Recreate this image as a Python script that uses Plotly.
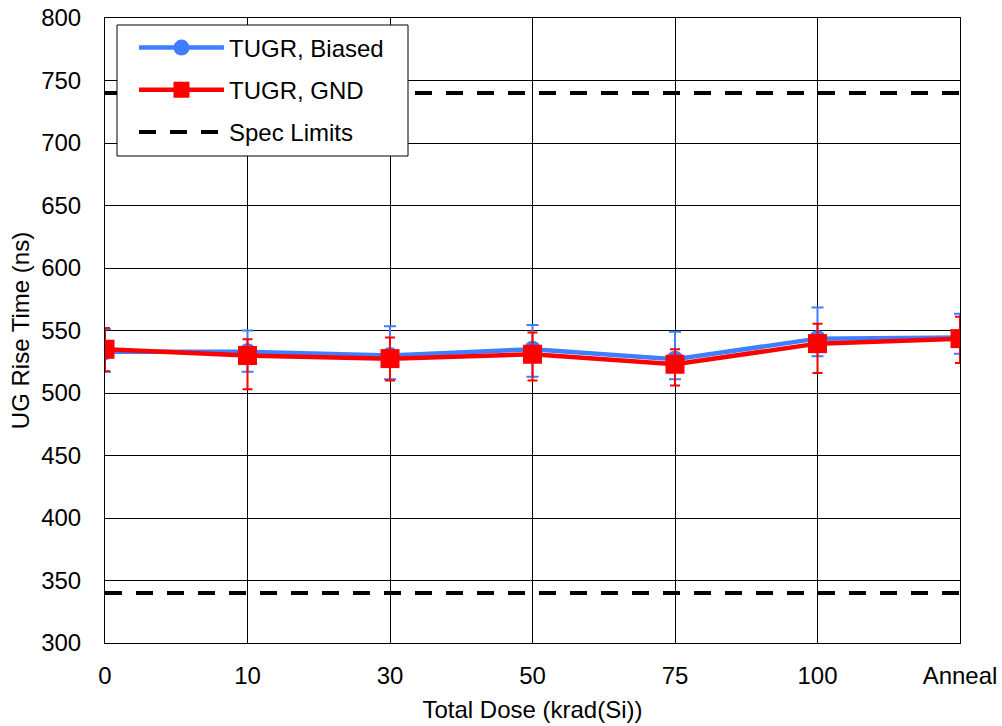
import plotly.graph_objects as go

categories = ["0", "10", "30", "50", "75", "100", "Anneal"]
x_pos = list(range(len(categories)))

biased_mean = [533, 533, 530, 535, 527, 543.5, 544.5]
biased_plus = [18, 17, 23.5, 19.5, 22, 25, 19]
biased_minus = [16, 16, 19, 22, 16, 14, 13]

gnd_mean = [535, 530, 527.5, 531, 523, 539.5, 543.5]
gnd_plus = [17, 13, 17, 17.5, 12, 16, 17.5]
gnd_minus = [17.5, 27, 17.5, 21, 17, 23.5, 19.5]

spec_upper = 740
spec_lower = 340

FONT = "Liberation Sans, Arial, sans-serif"
BLUE = "#3F7FFF"
RED = "#FF0000"

fig = go.Figure()

fig.add_trace(go.Scatter(
    x=x_pos, y=biased_mean, name="TUGR, Biased", mode="lines+markers",
    line=dict(color=BLUE, width=4.5),
    marker=dict(symbol="circle", size=17, color=BLUE),
    error_y=dict(type="data", array=biased_plus, arrayminus=biased_minus,
                 color=BLUE, thickness=2, width=6),
    legendgroup="a",
))
fig.add_trace(go.Scatter(
    x=x_pos, y=gnd_mean, name="TUGR, GND", mode="lines+markers",
    line=dict(color=RED, width=4.5),
    marker=dict(symbol="square", size=19, color=RED),
    error_y=dict(type="data", array=gnd_plus, arrayminus=gnd_minus,
                 color=RED, thickness=2, width=5),
    legendgroup="b",
))
fig.add_trace(go.Scatter(
    x=[x_pos[0], x_pos[-1]], y=[spec_upper, spec_upper], name="Spec Limits",
    mode="lines", line=dict(color="black", width=4, dash="17px,14px"),
    legendgroup="c",
))
fig.add_trace(go.Scatter(
    x=[x_pos[0], x_pos[-1]], y=[spec_lower, spec_lower], name="Spec Limits",
    mode="lines", line=dict(color="black", width=4, dash="17px,14px"),
    legendgroup="c", showlegend=False,
))

# legend frame drawn as a shape so it can be sized like the original
fig.add_shape(
    type="rect", xref="paper", yref="paper",
    x0=0.01404, x1=0.3544, y0=0.7792, y1=0.9888,
    line=dict(color="black", width=1), fillcolor="white", layer="above",
)

fig.update_layout(
    width=1002, height=726,
    margin=dict(l=105, r=42, t=18, b=83),
    paper_bgcolor="white", plot_bgcolor="white",
    font=dict(family=FONT, size=24, color="black"),
    legend=dict(
        x=0.0339, y=0.988, xanchor="left", yanchor="top",
        bgcolor="rgba(0,0,0,0)", borderwidth=0,
        font=dict(size=24), tracegroupgap=8, itemwidth=85,
        traceorder="grouped",
    ),
    showlegend=True,
)

fig.update_xaxes(
    range=[0, len(categories) - 1],
    tickmode="array", tickvals=x_pos, ticktext=categories,
    showgrid=True, gridcolor="black", gridwidth=1,
    showline=True, linecolor="black", linewidth=1, mirror=True,
    zeroline=False, ticks="", tickfont=dict(size=24),
    ticklabelstandoff=11, automargin=False,
    title=dict(text="Total Dose (krad(Si))", font=dict(size=24), standoff=13),
)
fig.update_yaxes(
    range=[300, 800], dtick=50,
    showgrid=True, gridcolor="black", gridwidth=1,
    showline=True, linecolor="black", linewidth=1, mirror=True,
    zeroline=False, ticks="", tickfont=dict(size=24),
    ticklabelstandoff=18, automargin=False,
    title=dict(text="UG Rise Time (ns)", font=dict(size=24), standoff=4),
)

fig.write_html("out.html", config={"displayModeBar": False},
               post_script="document.body.style.margin='0';")
